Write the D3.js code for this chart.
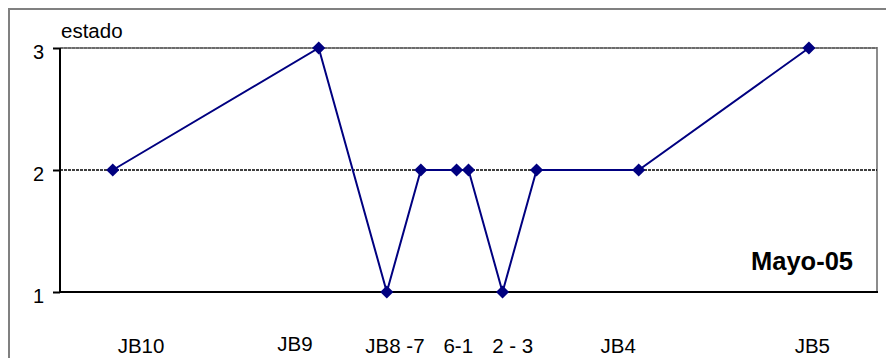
<!DOCTYPE html>
<html>
<head>
<meta charset="utf-8">
<script src="https://cdn.jsdelivr.net/npm/d3@7"></script>
<style>
  html, body { margin: 0; padding: 0; background: #fff; }
  svg { display: block; font-family: "Liberation Sans", Arial, sans-serif; }
</style>
</head>
<body>
<svg id="chart" width="886" height="358"></svg>
<script>
// Station positions along the route and their condition ("estado")
const pointX = [1.55, 7.6, 9.6, 10.6, 11.65, 12, 13, 14, 17, 22];
const estado = [2, 3, 1, 2, 2, 2, 1, 2, 2, 3];

// Station names shown under the axis, with their position along the route
const stationLabels = ["JB10", "JB9", "JB8 -7", "6-1", "2 - 3", "JB4", "JB5"];
const stationLabelX = [2.38, 6.9, 9.84, 11.7, 13.3, 16.4, 22.1];

const yTicks = [1, 2, 3];
const yTitle = "estado";
const periodLabel = "Mayo-05";

const svg = d3.select("#chart");
const plot = { left: 60, right: 877, top: 48, bottom: 292 };

const x = d3.scaleLinear().domain([0, 24]).range([plot.left, plot.right]);
const y = d3.scaleLinear().domain([1, 3]).range([plot.bottom, plot.top]);

// Outer chart frame
svg.append("rect")
  .attr("x", 9).attr("y", 9).attr("width", 900).attr("height", 400)
  .attr("fill", "#fff").attr("stroke", "#808080").attr("stroke-width", 2);

// Plot area frame (top & right in grey)
svg.append("path")
  .attr("d", `M${plot.left},${plot.top}H${plot.right}V${plot.bottom}`)
  .attr("fill", "none").attr("stroke", "#8c8c8c").attr("stroke-width", 2);

// Dotted gridlines
svg.append("g").selectAll("line")
  .data(yTicks.filter(d => d > 1))
  .join("line")
  .attr("x1", plot.left).attr("x2", plot.right)
  .attr("y1", d => y(d)).attr("y2", d => y(d))
  .attr("stroke", "#000").attr("stroke-width", d => d === 3 ? 1 : 1.6)
  .attr("stroke-opacity", d => d === 3 ? 0.45 : 1)
  .attr("stroke-dasharray", "3,1");

// Y axis
const yAxis = d3.axisLeft(y).tickValues(yTicks).tickFormat(d3.format("d"))
  .tickSize(7).tickPadding(9);
const gy = svg.append("g").attr("transform", `translate(${plot.left},0)`).call(yAxis);
gy.select(".domain").remove();
gy.selectAll(".tick line").attr("stroke", "#000").attr("stroke-width", 2);
gy.selectAll(".tick text")
  .attr("font-size", 20).attr("fill", "#000")
  .attr("font-family", "Liberation Sans, Arial, sans-serif")
  .attr("dy", "0.72em").attr("y", -4);

// Axis lines
svg.append("line")
  .attr("x1", plot.left).attr("x2", plot.left)
  .attr("y1", plot.top).attr("y2", plot.bottom + 1)
  .attr("stroke", "#000").attr("stroke-width", 2);
svg.append("line")
  .attr("x1", plot.left - 1).attr("x2", plot.right + 1)
  .attr("y1", plot.bottom).attr("y2", plot.bottom)
  .attr("stroke", "#000").attr("stroke-width", 2);

// Axis title
svg.append("text")
  .attr("x", 61).attr("y", 38)
  .attr("font-size", 20.5).attr("fill", "#000")
  .text(yTitle);

// Series line
const pts = pointX.map((v, i) => [v, estado[i]]);
svg.append("path")
  .datum(pts)
  .attr("d", d3.line().x(d => x(d[0])).y(d => y(d[1])))
  .attr("fill", "none").attr("stroke", "#000080").attr("stroke-width", 2);

// Diamond markers
const diamond = d3.symbol().type(d3.symbolDiamond2).size(110);
svg.append("g").selectAll("path")
  .data(pts)
  .join("path")
  .attr("transform", d => `translate(${x(d[0])},${y(d[1])})`)
  .attr("d", diamond)
  .attr("fill", "#000080");

// Station labels
svg.append("g").selectAll("text")
  .data(stationLabels)
  .join("text")
  .attr("x", (d, i) => x(stationLabelX[i]))
  .attr("y", (d, i) => d === "JB9" ? 351 : 353)
  .attr("text-anchor", "middle")
  .attr("font-size", 20.5).attr("fill", "#000")
  .text(d => d);

// Period label
svg.append("text")
  .attr("x", 853).attr("y", 270)
  .attr("text-anchor", "end")
  .attr("font-size", 25.5).attr("font-weight", "bold").attr("fill", "#000")
  .text(periodLabel);
</script>
</body>
</html>
